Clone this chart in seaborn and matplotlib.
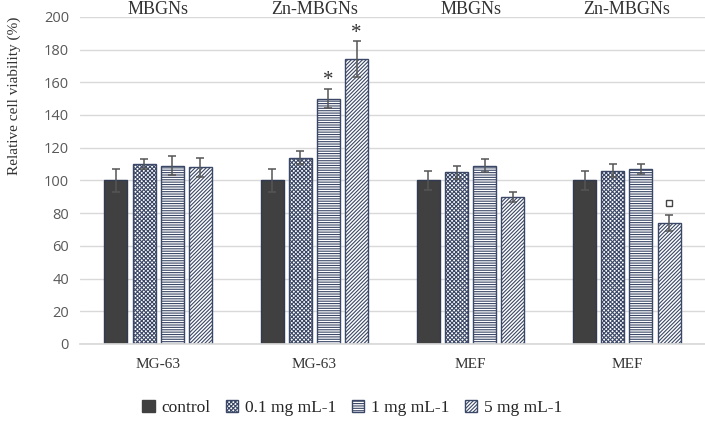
import matplotlib
matplotlib.use("Agg")
import matplotlib.pyplot as plt
import seaborn as sns
import pandas as pd
from matplotlib.container import BarContainer
from matplotlib.patches import Patch

# ---------- data ----------
groups = ["g1", "g2", "g3", "g4"]
cell_labels = ["MG-63", "MG-63", "MEF", "MEF"]
material_labels = ["MBGNs", "Zn-MBGNs", "MBGNs", "Zn-MBGNs"]
concs = ["control", "0.1 mg mL-1", "1 mg mL-1", "5 mg mL-1"]

viability = [
    [100, 110, 109, 108],
    [100, 114, 150, 174],
    [100, 105, 109, 90],
    [100, 106, 107, 74],
]
errors = [
    [7, 3, 6, 6],
    [7, 4, 6, 11],
    [6, 4, 4, 3],
    [6, 4, 3, 5],
]
# significance marks: (group index, conc index, symbol, y value)
marks = [(1, 2, "*", 161), (1, 3, "*", 190)]
square_mark = (3, 3, 86)

rows = []
for g, vals in zip(groups, viability):
    for c, v in zip(concs, vals):
        rows.append({"group": g, "conc": c, "value": v})
df = pd.DataFrame(rows)

sns.set_theme(style="white")
serif = ["Liberation Serif", "DejaVu Serif"]
plt.rcParams["font.family"] = ["Open Sans", "DejaVu Sans"]
plt.rcParams["hatch.color"] = "#2e2e2e"
plt.rcParams["hatch.linewidth"] = 0.8

fig = plt.figure(figsize=(7.05, 4.21), dpi=100)
ax = fig.add_axes([0.1135, 0.183, 0.8865, 0.777])

edge = "#3a4766"
fills = ["#404040", "white", "white", "white"]
hatches = [None, "xxxxxxxx", "-------", "/////////"]

sns.barplot(data=df, x="group", y="value", hue="conc", order=groups,
            hue_order=concs, width=0.72, gap=0.18, errorbar=None,
            palette=["#404040"] * 4, ax=ax, legend=False)

# style bars and add error bars
containers = [c for c in ax.containers if isinstance(c, BarContainer)]
for ci, cont in enumerate(containers):
    for gi, patch in enumerate(cont.patches):
        patch.set_facecolor(fills[ci])
        patch.set_edgecolor(edge if ci > 0 else "#303a50")
        patch.set_linewidth(1.0)
        if hatches[ci]:
            patch.set_hatch(hatches[ci])
        xc = patch.get_x() + patch.get_width() / 2
        ax.errorbar(xc, viability[gi][ci], yerr=errors[gi][ci], fmt="none",
                    ecolor="#555555", elinewidth=1.1, capsize=3, capthick=1.1,
                    zorder=5)

for gi, ci, sym, yv in marks:
    p = containers[ci].patches[gi]
    ax.text(p.get_x() + p.get_width() / 2, yv, sym, ha="center", va="center",
            fontsize=15, color="#333333", family=serif)
gi, ci, yv = square_mark
p = containers[ci].patches[gi]
ax.plot(p.get_x() + p.get_width() / 2, yv, marker="s", ms=5, mfc="white",
        mec="#444444", mew=1.0)

ax.set_ylim(0, 200)
ax.set_xlim(-0.5, 3.5)
ax.set_yticks(range(0, 201, 20))
ax.yaxis.grid(True, color="#d9d9d9", linewidth=1)
ax.set_axisbelow(True)
for s in ["left", "right", "top"]:
    ax.spines[s].set_visible(False)
ax.spines["bottom"].set_color("#d9d9d9")
ax.tick_params(axis="y", colors="#595959", labelsize=10.5, length=0, pad=8)
ax.tick_params(axis="x", length=0, pad=10)
ax.set_xticks(range(4))
ax.set_xticklabels(cell_labels, family=serif, fontsize=11, color="#333333")
ax.set_xlabel("")
ax.set_ylabel("Relative cell viability (%)", family=serif, fontsize=11,
              color="#333333")
ax.yaxis.set_label_coords(-0.094, 0.76)

for i, lab in enumerate(material_labels):
    ax.text(i, 204.3, lab, ha="center", va="center", family=serif,
            fontsize=13, color="#333333", clip_on=False)

# legend
handles = [Patch(facecolor=fills[i], edgecolor=edge if i > 0 else "#404040",
                 hatch=hatches[i], label=concs[i]) for i in range(4)]
fig.legend(handles=handles, loc="center", bbox_to_anchor=(0.5, 0.03),
           ncol=4, frameon=False, prop={"family": serif, "size": 12.5},
           handlelength=0.7, handleheight=0.7, handletextpad=0.4,
           columnspacing=0.9)

fig.savefig("out.png", dpi=100)
